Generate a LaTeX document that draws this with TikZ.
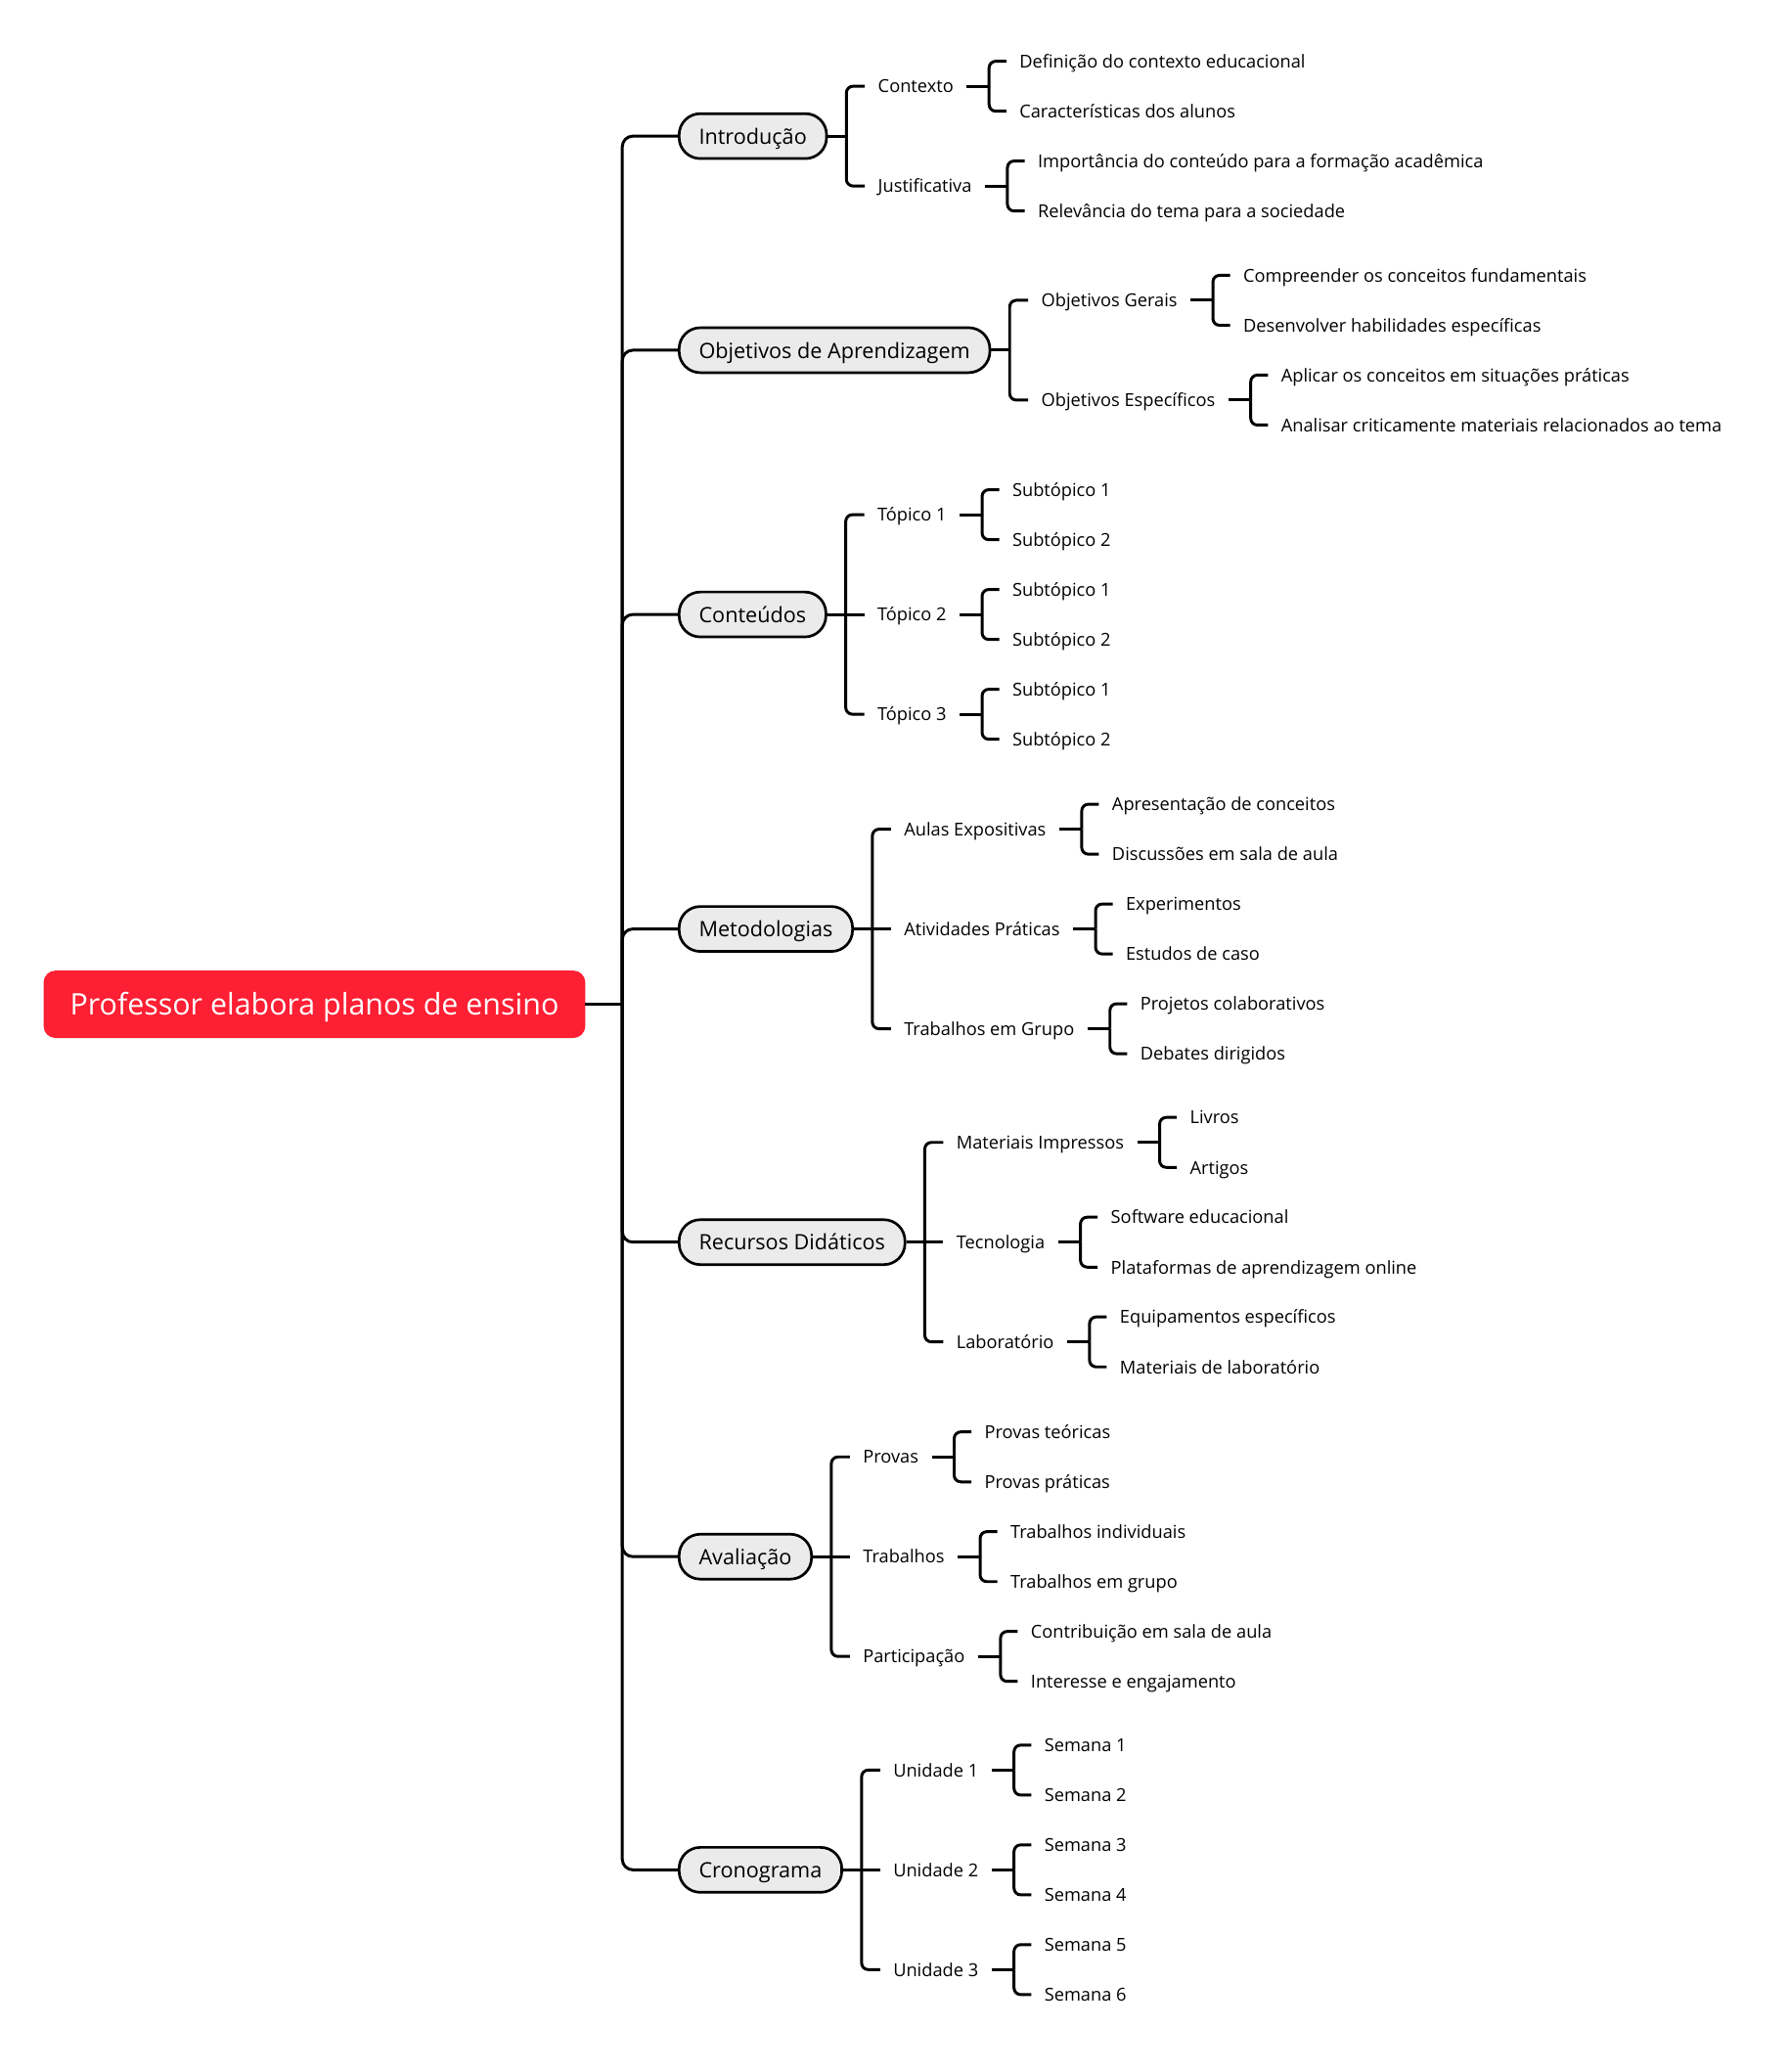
\documentclass[tikz,border=0pt]{standalone}
\usepackage{fontspec}
\setmainfont{Open Sans}
\usetikzlibrary{calc}
\definecolor{rootred}{HTML}{FD1F33}
\definecolor{topicgray}{HTML}{EBEBEB}

\begin{document}
\begin{tikzpicture}[x=1pt, y=-1pt,
	root/.style={fill=rootred, text=white, rounded corners=9pt, minimum height=51pt, inner xsep=20pt, outer sep=0pt, anchor=west, font=\fontsize{22.5}{27}\selectfont, text height=17pt, text depth=1pt},
	topic/.style={draw, line width=2pt, fill=topicgray, rounded corners=16pt, minimum height=34pt, inner xsep=15pt, anchor=west, font=\fontsize{16}{19}\selectfont, text height=12pt, text depth=0pt},
	leaf/.style={inner xsep=10pt, inner ysep=2pt, outer sep=0pt, anchor=west, font=\fontsize{13.5}{16}\selectfont, text height=10pt, text depth=0pt},
	link/.style={line width=2.2pt},
	elbow/.style={line width=2.2pt, rounded corners=5pt},
	trunk/.style={line width=2.2pt, rounded corners=8pt}]

	\useasboundingbox (0,0) rectangle (1354,1568);

	% Nó central
	\node[root] (root) at (33, 760) {Professor elabora planos de ensino};
	\coordinate (jroot) at (471, 760);
	\draw[link] (root.east) -- (jroot);

	% Tópicos principais
	\node[topic] (intro) at (513, 103) {Introdução};
	\node[topic] (obj) at (513, 265) {Objetivos de Aprendizagem};
	\node[topic] (cont) at (513, 465) {Conteúdos};
	\node[topic] (met) at (513, 703) {Metodologias};
	\node[topic] (rec) at (513, 940) {Recursos Didáticos};
	\node[topic] (ava) at (513, 1178) {Avaliação};
	\node[topic] (cro) at (513, 1415) {Cronograma};
	\draw[trunk] (jroot) |- (intro.west);
	\draw[trunk] (jroot) |- (obj.west);
	\draw[trunk] (jroot) |- (cont.west);
	\draw[trunk] (jroot) |- (met.west);
	\draw[trunk] (jroot) |- (rec.west);
	\draw[trunk] (jroot) |- (ava.west);
	\draw[trunk] (jroot) |- (cro.west);

	% Introdução
	\coordinate (jintro) at ([xshift=14pt]intro.east);
	\draw[link] (intro.east) -- (jintro);
	\node[leaf] (ctx) at ($(jintro)+(14,-37.75)$) {Contexto};
	\node[leaf] (just) at ($(jintro)+(14,37.75)$) {Justificativa};
	\draw[elbow] (jintro) |- (ctx.west);
	\draw[elbow] (jintro) |- (just.west);

	\coordinate (jctx) at ([xshift=17pt]ctx.east);
	\draw[link] (ctx.east) -- (jctx);
	\node[leaf] (ctx1) at ($(jctx)+(13,-18.9)$) {Definição do contexto educacional};
	\node[leaf] (ctx2) at ($(jctx)+(13,18.9)$) {Características dos alunos};
	\draw[elbow] (jctx) |- (ctx1.west);
	\draw[elbow] (jctx) |- (ctx2.west);

	\coordinate (jjust) at ([xshift=17pt]just.east);
	\draw[link] (just.east) -- (jjust);
	\node[leaf] (just1) at ($(jjust)+(13,-18.9)$) {Importância do conteúdo para a formação acadêmica};
	\node[leaf] (just2) at ($(jjust)+(13,18.9)$) {Relevância do tema para a sociedade};
	\draw[elbow] (jjust) |- (just1.west);
	\draw[elbow] (jjust) |- (just2.west);

	% Objetivos de Aprendizagem
	\coordinate (jobj) at ([xshift=14pt]obj.east);
	\draw[link] (obj.east) -- (jobj);
	\node[leaf] (gerais) at ($(jobj)+(14,-37.75)$) {Objetivos Gerais};
	\node[leaf] (espec) at ($(jobj)+(14,37.75)$) {Objetivos Específicos};
	\draw[elbow] (jobj) |- (gerais.west);
	\draw[elbow] (jobj) |- (espec.west);

	\coordinate (jgerais) at ([xshift=17pt]gerais.east);
	\draw[link] (gerais.east) -- (jgerais);
	\node[leaf] (gerais1) at ($(jgerais)+(13,-18.9)$) {Compreender os conceitos fundamentais};
	\node[leaf] (gerais2) at ($(jgerais)+(13,18.9)$) {Desenvolver habilidades específicas};
	\draw[elbow] (jgerais) |- (gerais1.west);
	\draw[elbow] (jgerais) |- (gerais2.west);

	\coordinate (jespec) at ([xshift=17pt]espec.east);
	\draw[link] (espec.east) -- (jespec);
	\node[leaf] (espec1) at ($(jespec)+(13,-18.9)$) {Aplicar os conceitos em situações práticas};
	\node[leaf] (espec2) at ($(jespec)+(13,18.9)$) {Analisar criticamente materiais relacionados ao tema};
	\draw[elbow] (jespec) |- (espec1.west);
	\draw[elbow] (jespec) |- (espec2.west);

	% Conteúdos
	\coordinate (jcont) at ([xshift=14pt]cont.east);
	\draw[link] (cont.east) -- (jcont);
	\node[leaf] (top1) at ($(jcont)+(14,-75.5)$) {Tópico 1};
	\node[leaf] (top2) at ($(jcont)+(14,0)$) {Tópico 2};
	\node[leaf] (top3) at ($(jcont)+(14,75.5)$) {Tópico 3};
	\draw[elbow] (jcont) |- (top1.west);
	\draw[link] (jcont) -- (top2.west);
	\draw[elbow] (jcont) |- (top3.west);

	\coordinate (jtop1) at ([xshift=17pt]top1.east);
	\draw[link] (top1.east) -- (jtop1);
	\node[leaf] (top1a) at ($(jtop1)+(13,-18.9)$) {Subtópico 1};
	\node[leaf] (top1b) at ($(jtop1)+(13,18.9)$) {Subtópico 2};
	\draw[elbow] (jtop1) |- (top1a.west);
	\draw[elbow] (jtop1) |- (top1b.west);

	\coordinate (jtop2) at ([xshift=17pt]top2.east);
	\draw[link] (top2.east) -- (jtop2);
	\node[leaf] (top2a) at ($(jtop2)+(13,-18.9)$) {Subtópico 1};
	\node[leaf] (top2b) at ($(jtop2)+(13,18.9)$) {Subtópico 2};
	\draw[elbow] (jtop2) |- (top2a.west);
	\draw[elbow] (jtop2) |- (top2b.west);

	\coordinate (jtop3) at ([xshift=17pt]top3.east);
	\draw[link] (top3.east) -- (jtop3);
	\node[leaf] (top3a) at ($(jtop3)+(13,-18.9)$) {Subtópico 1};
	\node[leaf] (top3b) at ($(jtop3)+(13,18.9)$) {Subtópico 2};
	\draw[elbow] (jtop3) |- (top3a.west);
	\draw[elbow] (jtop3) |- (top3b.west);

	% Metodologias
	\coordinate (jmet) at ([xshift=14pt]met.east);
	\draw[link] (met.east) -- (jmet);
	\node[leaf] (aulas) at ($(jmet)+(14,-75.5)$) {Aulas Expositivas};
	\node[leaf] (ativ) at ($(jmet)+(14,0)$) {Atividades Práticas};
	\node[leaf] (trab) at ($(jmet)+(14,75.5)$) {Trabalhos em Grupo};
	\draw[elbow] (jmet) |- (aulas.west);
	\draw[link] (jmet) -- (ativ.west);
	\draw[elbow] (jmet) |- (trab.west);

	\coordinate (jaulas) at ([xshift=17pt]aulas.east);
	\draw[link] (aulas.east) -- (jaulas);
	\node[leaf] (aulas1) at ($(jaulas)+(13,-18.9)$) {Apresentação de conceitos};
	\node[leaf] (aulas2) at ($(jaulas)+(13,18.9)$) {Discussões em sala de aula};
	\draw[elbow] (jaulas) |- (aulas1.west);
	\draw[elbow] (jaulas) |- (aulas2.west);

	\coordinate (jativ) at ([xshift=17pt]ativ.east);
	\draw[link] (ativ.east) -- (jativ);
	\node[leaf] (ativ1) at ($(jativ)+(13,-18.9)$) {Experimentos};
	\node[leaf] (ativ2) at ($(jativ)+(13,18.9)$) {Estudos de caso};
	\draw[elbow] (jativ) |- (ativ1.west);
	\draw[elbow] (jativ) |- (ativ2.west);

	\coordinate (jtrab) at ([xshift=17pt]trab.east);
	\draw[link] (trab.east) -- (jtrab);
	\node[leaf] (trab1) at ($(jtrab)+(13,-18.9)$) {Projetos colaborativos};
	\node[leaf] (trab2) at ($(jtrab)+(13,18.9)$) {Debates dirigidos};
	\draw[elbow] (jtrab) |- (trab1.west);
	\draw[elbow] (jtrab) |- (trab2.west);

	% Recursos Didáticos
	\coordinate (jrec) at ([xshift=14pt]rec.east);
	\draw[link] (rec.east) -- (jrec);
	\node[leaf] (mat) at ($(jrec)+(14,-75.5)$) {Materiais Impressos};
	\node[leaf] (tec) at ($(jrec)+(14,0)$) {Tecnologia};
	\node[leaf] (lab) at ($(jrec)+(14,75.5)$) {Laboratório};
	\draw[elbow] (jrec) |- (mat.west);
	\draw[link] (jrec) -- (tec.west);
	\draw[elbow] (jrec) |- (lab.west);

	\coordinate (jmat) at ([xshift=17pt]mat.east);
	\draw[link] (mat.east) -- (jmat);
	\node[leaf] (mat1) at ($(jmat)+(13,-18.9)$) {Livros};
	\node[leaf] (mat2) at ($(jmat)+(13,18.9)$) {Artigos};
	\draw[elbow] (jmat) |- (mat1.west);
	\draw[elbow] (jmat) |- (mat2.west);

	\coordinate (jtec) at ([xshift=17pt]tec.east);
	\draw[link] (tec.east) -- (jtec);
	\node[leaf] (tec1) at ($(jtec)+(13,-18.9)$) {Software educacional};
	\node[leaf] (tec2) at ($(jtec)+(13,18.9)$) {Plataformas de aprendizagem online};
	\draw[elbow] (jtec) |- (tec1.west);
	\draw[elbow] (jtec) |- (tec2.west);

	\coordinate (jlab) at ([xshift=17pt]lab.east);
	\draw[link] (lab.east) -- (jlab);
	\node[leaf] (lab1) at ($(jlab)+(13,-18.9)$) {Equipamentos específicos};
	\node[leaf] (lab2) at ($(jlab)+(13,18.9)$) {Materiais de laboratório};
	\draw[elbow] (jlab) |- (lab1.west);
	\draw[elbow] (jlab) |- (lab2.west);

	% Avaliação
	\coordinate (java) at ([xshift=14pt]ava.east);
	\draw[link] (ava.east) -- (java);
	\node[leaf] (prov) at ($(java)+(14,-75.5)$) {Provas};
	\node[leaf] (trabs) at ($(java)+(14,0)$) {Trabalhos};
	\node[leaf] (part) at ($(java)+(14,75.5)$) {Participação};
	\draw[elbow] (java) |- (prov.west);
	\draw[link] (java) -- (trabs.west);
	\draw[elbow] (java) |- (part.west);

	\coordinate (jprov) at ([xshift=17pt]prov.east);
	\draw[link] (prov.east) -- (jprov);
	\node[leaf] (prov1) at ($(jprov)+(13,-18.9)$) {Provas teóricas};
	\node[leaf] (prov2) at ($(jprov)+(13,18.9)$) {Provas práticas};
	\draw[elbow] (jprov) |- (prov1.west);
	\draw[elbow] (jprov) |- (prov2.west);

	\coordinate (jtrabs) at ([xshift=17pt]trabs.east);
	\draw[link] (trabs.east) -- (jtrabs);
	\node[leaf] (trabs1) at ($(jtrabs)+(13,-18.9)$) {Trabalhos individuais};
	\node[leaf] (trabs2) at ($(jtrabs)+(13,18.9)$) {Trabalhos em grupo};
	\draw[elbow] (jtrabs) |- (trabs1.west);
	\draw[elbow] (jtrabs) |- (trabs2.west);

	\coordinate (jpart) at ([xshift=17pt]part.east);
	\draw[link] (part.east) -- (jpart);
	\node[leaf] (part1) at ($(jpart)+(13,-18.9)$) {Contribuição em sala de aula};
	\node[leaf] (part2) at ($(jpart)+(13,18.9)$) {Interesse e engajamento};
	\draw[elbow] (jpart) |- (part1.west);
	\draw[elbow] (jpart) |- (part2.west);

	% Cronograma
	\coordinate (jcro) at ([xshift=14pt]cro.east);
	\draw[link] (cro.east) -- (jcro);
	\node[leaf] (un1) at ($(jcro)+(14,-75.5)$) {Unidade 1};
	\node[leaf] (un2) at ($(jcro)+(14,0)$) {Unidade 2};
	\node[leaf] (un3) at ($(jcro)+(14,75.5)$) {Unidade 3};
	\draw[elbow] (jcro) |- (un1.west);
	\draw[link] (jcro) -- (un2.west);
	\draw[elbow] (jcro) |- (un3.west);

	\coordinate (jun1) at ([xshift=17pt]un1.east);
	\draw[link] (un1.east) -- (jun1);
	\node[leaf] (sem1) at ($(jun1)+(13,-18.9)$) {Semana 1};
	\node[leaf] (sem2) at ($(jun1)+(13,18.9)$) {Semana 2};
	\draw[elbow] (jun1) |- (sem1.west);
	\draw[elbow] (jun1) |- (sem2.west);

	\coordinate (jun2) at ([xshift=17pt]un2.east);
	\draw[link] (un2.east) -- (jun2);
	\node[leaf] (sem3) at ($(jun2)+(13,-18.9)$) {Semana 3};
	\node[leaf] (sem4) at ($(jun2)+(13,18.9)$) {Semana 4};
	\draw[elbow] (jun2) |- (sem3.west);
	\draw[elbow] (jun2) |- (sem4.west);

	\coordinate (jun3) at ([xshift=17pt]un3.east);
	\draw[link] (un3.east) -- (jun3);
	\node[leaf] (sem5) at ($(jun3)+(13,-18.9)$) {Semana 5};
	\node[leaf] (sem6) at ($(jun3)+(13,18.9)$) {Semana 6};
	\draw[elbow] (jun3) |- (sem5.west);
	\draw[elbow] (jun3) |- (sem6.west);
\end{tikzpicture}
\end{document}
